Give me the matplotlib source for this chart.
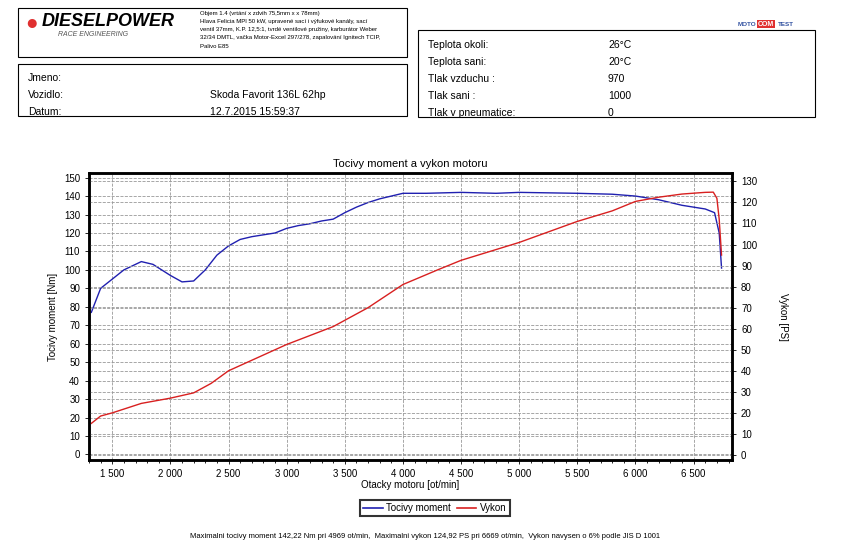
import numpy as np
import matplotlib.pyplot as plt
from matplotlib.patches import Rectangle
from matplotlib.lines import Line2D
from matplotlib.ticker import MultipleLocator, FuncFormatter

# torque [Nm] vs rpm
rpm_t = [1320, 1400, 1500, 1600, 1750, 1850, 2000, 2100, 2200, 2300, 2400, 2500, 2600,
         2700, 2900, 3000, 3100, 3200, 3300, 3400, 3500, 3600, 3700, 3800, 3900, 4000,
         4200, 4500, 4800, 5000, 5500, 5800, 6000, 6200, 6400, 6600, 6680, 6720, 6740]
torque = [77, 90, 95, 100, 104.5, 103, 97, 93.5, 94, 100, 108, 113, 116.5,
          118, 120, 122.5, 124, 125, 126.5, 127.5, 131, 134, 136.5, 138.5, 140, 141.5,
          141.5, 142, 141.5, 142, 141.5, 141, 140, 138, 135, 133, 131, 120, 101]
# power [PS] vs rpm
rpm_p = [1320, 1400, 1500, 1750, 2000, 2200, 2350, 2500, 2700, 3000, 3400, 3700, 4000,
         4300, 4500, 5000, 5500, 5800, 6000, 6200, 6400, 6600, 6669, 6700, 6720, 6740]
power = [15, 18.5, 20, 24.5, 27, 29.5, 34, 40, 45, 52.5, 61, 70, 81,
         88, 92.5, 101, 111, 116, 120.5, 122.5, 124, 124.8, 124.9, 122, 112, 95]

W, H = 850, 553
fig = plt.figure(figsize=(8.5, 5.53), dpi=100)
plt.rcParams['font.family'] = ['Liberation Sans', 'DejaVu Sans']

def px(x, y):
    return x / W, 1 - y / H

def box(x0, y0, x1, y1):
    fig.patches.append(Rectangle((x0 / W, 1 - y1 / H), (x1 - x0) / W, (y1 - y0) / H,
                                 transform=fig.transFigure, fill=False, lw=0.8, color='black'))

def txt(x, y, s, **kw):
    fig.text(*px(x, y), s, va='center', **kw)

# header
box(18, 8, 407, 57)
txt(25, 24, '●', color='#e03030', fontsize=15)
txt(42, 22, 'DIESELPOWER', fontsize=13, fontweight='bold', style='italic')
txt(58, 35, 'RACE ENGINEERING', fontsize=5, style='italic', color='#555555')
txt(200, 14, 'Objem 1.4 (vrtání x zdvih 75,5mm x x 78mm)', fontsize=4.3)
txt(200, 22, 'Hlava Felicia MPI 50 kW, upravené sací i výfukové kanály, sací', fontsize=4.3)
txt(200, 30, 'ventil 37mm, K.P. 12,5:1, tvrdé ventilové pružiny, karburátor Weber', fontsize=4.3)
txt(200, 38, '32/34 DMTL, vačka Motor-Excel 297/278, zapalování Ignitech TCIP,', fontsize=4.3)
txt(200, 47, 'Palivo E85', fontsize=4.3)

box(18, 64, 407, 116)
fig.patches.append(Rectangle((18 / W, 1 - 116 / H), 389 / W, 52 / H, transform=fig.transFigure,
                             fill=True, color='white', zorder=-1))
for y, a, b in [(78, 'Jmeno:', ''), (95, 'Vozidlo:', 'Skoda Favorit 136L 62hp'),
                (112, 'Datum:', '12.7.2015 15:59:37')]:
    txt(28, y, a, fontsize=7.5)
    txt(210, y, b, fontsize=7.5)

box(418, 30, 815, 117)
for y, a, b in [(45, 'Teplota okoli:', '26°C'), (62, 'Teplota sani:', '20°C'),
                (79, 'Tlak vzduchu :', '970'), (96, 'Tlak sani :', '1000'),
                (113, 'Tlak v pneumatice:', '0')]:
    txt(428, y, a, fontsize=7.5)
    txt(608, y, b, fontsize=7.5)
txt(738, 24, 'MOTO', fontsize=4.5, color='#3050a0', fontweight='bold')
txt(758, 24, 'COM', fontsize=5, color='white', fontweight='bold',
    bbox=dict(fc='#e03030', ec='none', pad=0.5))
txt(778, 24, 'TEST', fontsize=4.5, color='#3050a0', fontweight='bold')

# chart
l, b = px(89, 460)
r, t = px(732, 173)
ax = fig.add_axes([l, b, r - l, t - b])
ax2 = ax.twinx()
ax.plot(rpm_t, torque, color='#2020b0', lw=1)
ax2.plot(rpm_p, power, color='#d82020', lw=1)
ax.set_xlim(1300, 6830)
ax.set_ylim(-3, 152.5)
ax2.set_ylim(-2.4, 134)
ax.xaxis.set_major_locator(MultipleLocator(500))
ax.xaxis.set_minor_locator(MultipleLocator(100))
ax.xaxis.set_major_formatter(FuncFormatter(lambda v, p: f'{int(v):,}'.replace(',', ' ')))
ax.yaxis.set_major_locator(MultipleLocator(10))
ax2.yaxis.set_major_locator(MultipleLocator(10))
ax.grid(True, which='major', ls='--', color='#999999', lw=0.6)
ax2.grid(True, axis='y', ls='--', color='#999999', lw=0.6)
for a in (ax, ax2):
    a.tick_params(labelsize=7, length=3, width=0.6)
    for s in a.spines.values():
        s.set_linewidth(1.8)
ax.tick_params(which='minor', length=2)
ax.set_xlabel('Otacky motoru [ot/min]', fontsize=7, labelpad=1)
ax.set_ylabel('Tocivy moment [Nm]', fontsize=7)
ax2.set_ylabel('Vykon [PS]', fontsize=7, rotation=270, labelpad=22)
ax.set_title('Tocivy moment a vykon motoru', fontsize=8, pad=4)

handles = [Line2D([], [], color='#2020b0', lw=1.2), Line2D([], [], color='#d82020', lw=1.2)]
leg = fig.legend(handles, ['Tocivy moment', 'Vykon'], loc='center', bbox_to_anchor=px(435, 508),
                 ncol=2, fontsize=7, frameon=True, fancybox=False, edgecolor='black',
                 handlelength=2, columnspacing=0.6, handletextpad=0.4, borderpad=0.3)
leg.get_frame().set_linewidth(1.5)
txt(425, 536, 'Maximalni tocivy moment 142,22 Nm pri 4969 ot/min,  Maximalni vykon 124,92 PS pri 6669 ot/min,  '
    'Vykon navysen o 6% podle JIS D 1001', fontsize=5.5, ha='center')

fig.savefig('out.png', dpi=100)
